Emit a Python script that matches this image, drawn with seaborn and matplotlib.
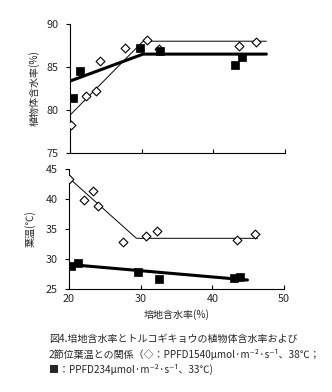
import matplotlib
matplotlib.use("Agg")
import matplotlib.pyplot as plt
import seaborn as sns
import pandas as pd

sns.set_theme(style="white")
plt.rcParams['font.family'] = ['Noto Sans CJK JP', 'DejaVu Sans']

# Top panel: plant water content (%)
top_dia_x = [20.2, 22.2, 23.6, 24.2, 27.7, 30.7, 32.4, 43.6, 46.0]
top_dia_y = [78.2, 81.6, 82.2, 85.7, 87.2, 88.1, 87.1, 87.5, 87.9]
top_sq_x = [20.4, 21.4, 29.8, 32.6, 43.0, 44.0]
top_sq_y = [81.4, 84.5, 87.2, 86.9, 85.2, 86.2]
top_dia_line_x = [20.0, 30.2, 47.4]
top_dia_line_y = [79.4, 88.0, 88.0]
top_sq_line_x = [19.8, 30.2, 47.4]
top_sq_line_y = [83.3, 86.5, 86.5]

# Bottom panel: leaf temperature (°C)
bot_dia_x = [20.0, 22.1, 23.4, 24.1, 27.5, 30.7, 32.3, 43.5, 45.9]
bot_dia_y = [43.4, 39.8, 41.4, 38.9, 32.8, 33.8, 34.7, 33.1, 34.1]
bot_sq_x = [20.3, 21.3, 29.6, 32.5, 43.0, 43.9]
bot_sq_y = [28.9, 29.4, 27.9, 26.7, 26.9, 27.0]
bot_dia_line_x = [19.9, 29.4, 46.3]
bot_dia_line_y = [43.6, 33.45, 33.45]
bot_sq_line_x = [19.9, 44.9]
bot_sq_line_y = [29.1, 26.5]

xticks = [20, 30, 40, 50]
top_yticks = [75, 80, 85, 90]
bot_yticks = [25, 30, 35, 40, 45]

fig = plt.figure(figsize=(3.32, 3.92), dpi=100)
ax1 = fig.add_axes([70/332, 1-153/392, 215/332, 129/392])
ax2 = fig.add_axes([69/332, 1-289/392, 215/332, 120/392])

fs = 7.2
tfs = 7.8

def style(ax, ylim, yticks, show_xlabels):
    ax.set_xlim(20, 50)
    ax.set_ylim(*ylim)
    ax.set_xticks(xticks)
    ax.set_yticks(yticks)
    for s in ['top', 'right']:
        ax.spines[s].set_visible(False)
    for s in ['left', 'bottom']:
        ax.spines[s].set_color('black')
        ax.spines[s].set_linewidth(0.8)
    ax.tick_params(axis='x', direction='in', length=3, width=0.8, color='black',
                   labelsize=tfs, labelbottom=show_xlabels, bottom=True)
    ax.tick_params(axis='y', direction='out', length=3, width=0.8, color='black',
                   labelsize=tfs, left=True, pad=5)
    ax.grid(False)
    ax.set_facecolor('white')

def draw(ax, dx, dy, sx, sy, dlx, dly, slx, sly):
    sns.lineplot(x=dlx, y=dly, ax=ax, color='black', linewidth=0.7, sort=False, estimator=None)
    sns.lineplot(x=slx, y=sly, ax=ax, color='black', linewidth=2.2, sort=False, estimator=None)
    sns.scatterplot(x=dx, y=dy, ax=ax, marker='D', s=20, facecolor='white',
                    edgecolor='black', linewidth=0.8, zorder=5)
    sns.scatterplot(x=sx, y=sy, ax=ax, marker='s', s=28, color='black',
                    edgecolor='black', linewidth=0.5, zorder=5)

draw(ax1, top_dia_x, top_dia_y, top_sq_x, top_sq_y,
     top_dia_line_x, top_dia_line_y, top_sq_line_x, top_sq_line_y)
draw(ax2, bot_dia_x, bot_dia_y, bot_sq_x, bot_sq_y,
     bot_dia_line_x, bot_dia_line_y, bot_sq_line_x, bot_sq_line_y)

style(ax1, (75, 90), top_yticks, False)
style(ax2, (25, 45), bot_yticks, True)

ax1.set_xlabel('')
ax1.set_ylabel('植物体含水率(%)', fontsize=fs, labelpad=5)
ax2.set_ylabel('葉温(℃)', fontsize=fs, labelpad=7)
ax2.set_xlabel('培地含水率(%)', fontsize=fs, labelpad=4)

cap = ['図4.培地含水率とトルコギキョウの植物体含水率および',
       '2節位葉温との関係（◇：PPFD1540μmol·m⁻²·s⁻¹、38℃；',
       '■：PPFD234μmol·m⁻²·s⁻¹、33℃)']
ys = [339, 354, 369]
for t, y in zip(cap, ys):
    fig.text(49/332, 1-y/392, t, fontsize=fs, va='center', ha='left',
             family=['Noto Sans CJK JP', 'DejaVu Sans'])

fig.savefig('out.png', dpi=100, facecolor='white')
